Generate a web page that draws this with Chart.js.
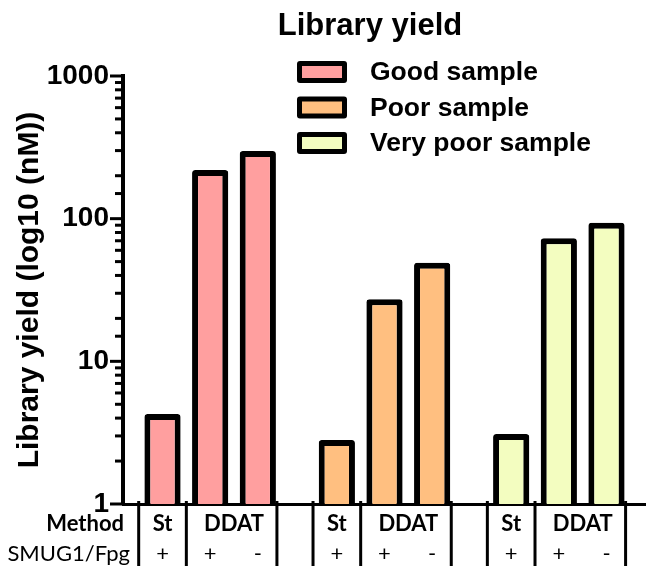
<!DOCTYPE html>
<html>
<head>
<meta charset="utf-8">
<script src="https://cdn.jsdelivr.net/npm/chart.js@4.4.1/dist/chart.umd.min.js"></script>
<style>
  html, body { margin: 0; padding: 0; background: #fff; }
  #wrap { width: 646px; height: 571px; position: relative; }
</style>
</head>
<body>
<div id="wrap"><canvas id="yield"></canvas></div>
<script>
// one group of bars per sample
const samples = ['Good sample', 'Poor sample', 'Very poor sample'];
const sampleColors = ['#ff9f9f', '#ffbf80', '#f3fdc0'];

// conditions inside each group
const methods = ['St', 'DDAT', 'DDAT'];
const smug = ['+', '+', '-'];

// library yield (nM), per sample
const stPlus = [4.27, 2.81, 3.09];
const ddatPlus = [219, 27.2, 72.8];
const ddatMinus = [298, 49.1, 93.6];

const yTickLabels = [1, 10, 100, 1000];

const SANS = '"Liberation Sans", Arial, sans-serif';
const TABLE = 'Lato, "Open Sans", sans-serif';

function isLabelled(v) {
  return yTickLabels.some(t => Math.abs(t - v) < 1e-6);
}

// title, legend, log ticks and the Method / SMUG1 table under the axis
const decorPlugin = {
  id: 'decor',
  afterDraw(chart) {
    const { ctx, chartArea } = chart;
    const yScale = chart.scales.y;
    ctx.save();

    // title
    ctx.fillStyle = '#000';
    ctx.font = 'bold 31px ' + SANS;
    ctx.textAlign = 'center';
    ctx.textBaseline = 'alphabetic';
    ctx.fillText('Library yield', 370, 35);

    // legend (one entry per sample)
    samples.forEach((name, i) => {
      const cy = 72 + i * 35.5;
      ctx.fillStyle = '#000';
      ctx.beginPath();
      ctx.roundRect(297, cy - 11, 50, 22, 3);
      ctx.fill();
      ctx.fillStyle = sampleColors[i];
      ctx.fillRect(302, cy - 6, 40, 12);
      ctx.fillStyle = '#000';
      ctx.font = 'bold 26.5px ' + SANS;
      ctx.textAlign = 'left';
      ctx.textBaseline = 'middle';
      ctx.fillText(name, 370, cy + 1);
    });

    // log ticks: long at decades, short in between
    ctx.strokeStyle = '#000';
    ctx.lineWidth = 3;
    for (const t of yScale.ticks) {
      const y = yScale.getPixelForValue(t.value);
      const len = isLabelled(t.value) ? 13 : 8;
      ctx.beginPath();
      ctx.moveTo(chartArea.left - len, y);
      ctx.lineTo(chartArea.left, y);
      ctx.stroke();
    }

    // table under the bars
    const rowMethod = 524;
    const rowSmug = 554;
    ctx.fillStyle = '#000';
    ctx.textBaseline = 'middle';
    ctx.textAlign = 'right';
    ctx.font = 'bold 22px ' + TABLE;
    ctx.fillText('Method', 124, rowMethod);
    ctx.font = '22px ' + TABLE;
    ctx.fillText('SMUG1/Fpg', 130, rowSmug);

    const metas = [0, 1, 2].map(d => chart.getDatasetMeta(d));
    samples.forEach((s, i) => {
      const b0 = metas[0].data[i], b1 = metas[1].data[i], b2 = metas[2].data[i];
      const slot = b1.x - b0.x;
      const lines = [b0.x - slot / 2, (b0.x + b1.x) / 2, b2.x + b2.width / 2 + 1];
      ctx.lineWidth = 3;
      lines.forEach(x => {
        ctx.beginPath();
        ctx.moveTo(x, chartArea.bottom - 3);
        ctx.lineTo(x, 566);
        ctx.stroke();
      });
      ctx.textAlign = 'center';
      ctx.font = 'bold 22px ' + TABLE;
      ctx.fillText(methods[0], b0.x, rowMethod);
      ctx.fillText(methods[1], (b1.x + b2.x) / 2, rowMethod);
      ctx.font = '22px ' + TABLE;
      [b0, b1, b2].forEach((b, k) => ctx.fillText(smug[k], b.x, rowSmug));
    });

    ctx.restore();
  }
};

function barSet(label, data) {
  return {
    label,
    data,
    backgroundColor: sampleColors,
    borderColor: '#000',
    borderWidth: 6,
    borderRadius: 3,
    barPercentage: 0.76,
    categoryPercentage: 0.82
  };
}

new Chart(document.getElementById('yield'), {
  type: 'bar',
  data: {
    labels: samples,
    datasets: [
      barSet('St +', stPlus),
      barSet('DDAT +', ddatPlus),
      barSet('DDAT -', ddatMinus)
    ]
  },
  options: {
    responsive: true,
    maintainAspectRatio: false,
    animation: false,
    layout: { padding: { top: 76, right: 0, bottom: 67, left: 0 } },
    plugins: {
      legend: { display: false },
      title: { display: false },
      tooltip: { enabled: false }
    },
    scales: {
      x: {
        ticks: { display: false },
        grid: { display: false, drawTicks: false },
        border: { color: '#000', width: 3 },
        afterFit(scale) { scale.height = 0; }
      },
      y: {
        type: 'logarithmic',
        min: 1,
        max: 1000,
        grid: { display: false, drawTicks: false },
        border: { color: '#000', width: 4 },
        ticks: {
          autoSkip: false,
          padding: 14,
          color: '#000',
          font: { family: SANS, size: 28, weight: 'bold' },
          callback: v => isLabelled(v) ? String(v) : ''
        },
        title: {
          display: true,
          text: 'Library yield (log10 (nM))',
          color: '#000',
          font: { family: SANS, size: 30, weight: 'bold' },
          padding: { top: 12, bottom: 0 }
        },
        afterFit(scale) { scale.width = 123; }
      }
    }
  },
  plugins: [decorPlugin]
});
</script>
</body>
</html>
